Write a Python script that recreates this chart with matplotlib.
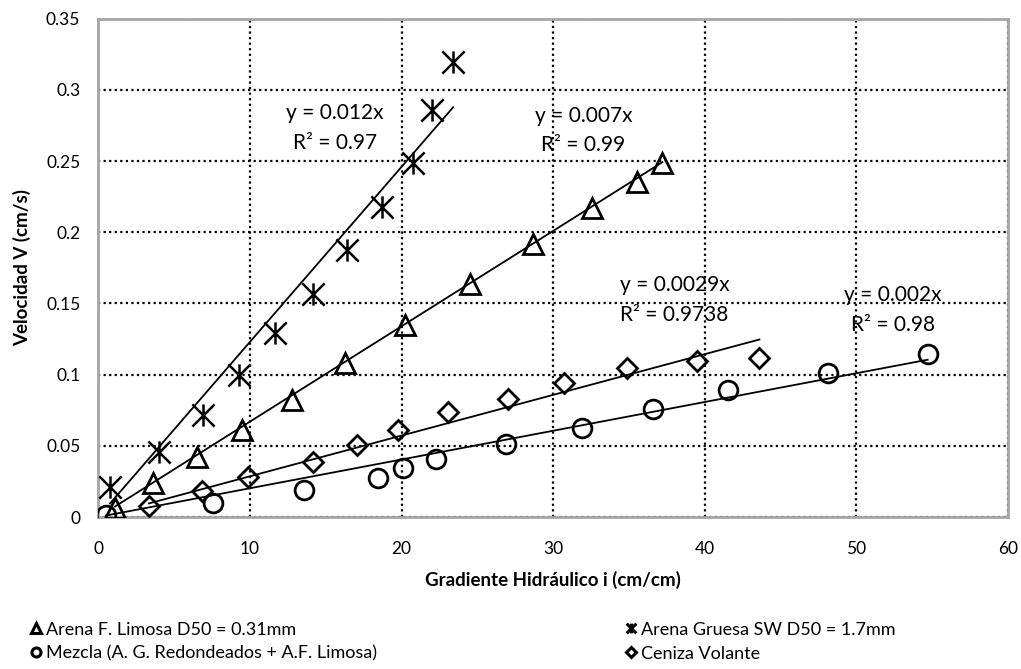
import numpy as np
import matplotlib
matplotlib.use("Agg")
import matplotlib.pyplot as plt
from matplotlib.path import Path
from matplotlib.lines import Line2D

plt.rcParams['font.family'] = ['Lato', 'DejaVu Sans']

# --- data ---
# Arena F. Limosa D50 = 0.31mm (triangles)
limosa_x = [1.1, 3.6, 6.5, 9.47, 12.77, 16.26, 20.2, 24.5, 28.7, 32.55, 35.5, 37.2]
limosa_y = [0.0063, 0.0239, 0.042, 0.061, 0.082, 0.108, 0.135, 0.164, 0.192, 0.217, 0.235, 0.249]

# Arena Gruesa SW D50 = 1.7mm (stars)
gruesa_x = [0.77, 4.0, 6.9, 9.27, 11.65, 14.15, 16.4, 18.7, 20.75, 22.0, 23.4]
gruesa_y = [0.021, 0.0456, 0.0716, 0.0997, 0.129, 0.157, 0.1875, 0.218, 0.249, 0.286, 0.3195]

# Mezcla (circles)
mezcla_x = [0.5, 7.56, 13.56, 18.44, 20.1, 22.3, 26.9, 31.9, 36.6, 41.5, 48.1, 54.7]
mezcla_y = [0.0014, 0.0098, 0.019, 0.0274, 0.0344, 0.0407, 0.0513, 0.0625, 0.0758, 0.0892, 0.101, 0.1145]

# Ceniza Volante (diamonds)
ceniza_x = [3.34, 6.84, 9.87, 14.15, 17.05, 19.76, 23.05, 27.0, 30.7, 34.9, 39.5, 43.6]
ceniza_y = [0.0077, 0.018, 0.028, 0.0386, 0.0506, 0.061, 0.0737, 0.083, 0.094, 0.1046, 0.1095, 0.1117]

# trendline slopes (forced through origin) and labels
slopes = {'gruesa': 0.0123, 'limosa': 0.0067, 'ceniza': 0.00286, 'mezcla': 0.00202}
eq_labels = {
    'gruesa': ("y = 0.012x", "R² = 0.97"),
    'limosa': ("y = 0.007x", "R² = 0.99"),
    'ceniza': ("y = 0.0029x", "R² = 0.9738"),
    'mezcla': ("y = 0.002x", "R² = 0.98"),
}

# custom star: X with a vertical bar
star = Path([(-1, -1), (1, 1), (-1, 1), (1, -1), (0, -1), (0, 1)],
            [Path.MOVETO, Path.LINETO, Path.MOVETO, Path.LINETO, Path.MOVETO, Path.LINETO])

fig = plt.figure(figsize=(10.21, 6.69), dpi=100)
ax = fig.add_axes([0.0963, 0.2272, 0.8910, 0.7447])

common = dict(linestyle='none', markerfacecolor='none', markeredgecolor='black', markeredgewidth=2)
ax.plot(limosa_x, limosa_y, marker='^', markersize=14, **common, zorder=3)
ax.plot(gruesa_x, gruesa_y, marker=star, markersize=16, linestyle='none',
        markeredgecolor='black', markeredgewidth=1.8, zorder=3)
ax.plot(mezcla_x, mezcla_y, marker='o', markersize=13.5, **common, zorder=3)
ax.plot(ceniza_x, ceniza_y, marker='D', markersize=10, **common, zorder=3)

# trendlines
for key, xs in [('gruesa', gruesa_x), ('limosa', limosa_x), ('ceniza', ceniza_x), ('mezcla', mezcla_x)]:
    xx = np.array([min(xs), max(xs)])
    ax.plot(xx, slopes[key] * xx, color='black', linewidth=1.3, zorder=2)

# equation labels
label_pos = {'gruesa': (15.6, 0.284), 'limosa': (32.0, 0.282), 'ceniza': (38.0, 0.163), 'mezcla': (52.4, 0.156)}
for key, (lx, ly) in label_pos.items():
    l1, l2 = eq_labels[key]
    ax.text(lx, ly, l1, ha='center', va='center', fontsize=15, zorder=4)
    ax.text(lx, ly - 0.021, l2, ha='center', va='center', fontsize=15, zorder=4)

ax.set_xlim(0, 60)
ax.set_ylim(0, 0.35)
ax.set_xticks(np.arange(0, 61, 10))
ax.set_yticks(np.arange(0, 0.351, 0.05))
ax.set_yticklabels(['0', '0.05', '0.1', '0.15', '0.2', '0.25', '0.3', '0.35'])
ax.tick_params(length=0, labelsize=12.5)
ax.tick_params(axis='x', pad=17)
ax.tick_params(axis='y', pad=13)
ax.grid(True, color='black', linestyle=(0, (1, 1.5)), linewidth=1.6)
for s in ax.spines.values():
    s.set_color('#a6a6a6')
    s.set_linewidth(2)

ax.set_xlabel('Gradiente Hidráulico i (cm/cm)', fontsize=13.5, fontweight='bold', labelpad=10)
ax.set_ylabel('Velocidad V (cm/s)', fontsize=13.5, fontweight='bold', labelpad=11)

handles = [
    Line2D([], [], marker='^', markersize=6.5, linestyle='none', markerfacecolor='none',
           markeredgecolor='black', markeredgewidth=2.2),
    Line2D([], [], marker='o', markersize=6.5, linestyle='none', markerfacecolor='none',
           markeredgecolor='black', markeredgewidth=2.2),
    Line2D([], [], marker=star, markersize=7, linestyle='none',
           markeredgecolor='black', markeredgewidth=2.2),
    Line2D([], [], marker='D', markersize=5, linestyle='none', markerfacecolor='none',
           markeredgecolor='black', markeredgewidth=2.2),
]
labels = ['Arena F. Limosa D50 = 0.31mm', 'Mezcla (A. G. Redondeados + A.F. Limosa)',
          'Arena Gruesa SW D50 = 1.7mm', 'Ceniza Volante']
fig.legend(handles, labels, loc='upper left', bbox_to_anchor=(0.031, 0.071), ncol=2,
           frameon=False, fontsize=13, handlelength=0.5, handletextpad=0.3,
           columnspacing=13.8, labelspacing=0.45, borderaxespad=0, borderpad=0)

fig.savefig('out.png', dpi=100)
